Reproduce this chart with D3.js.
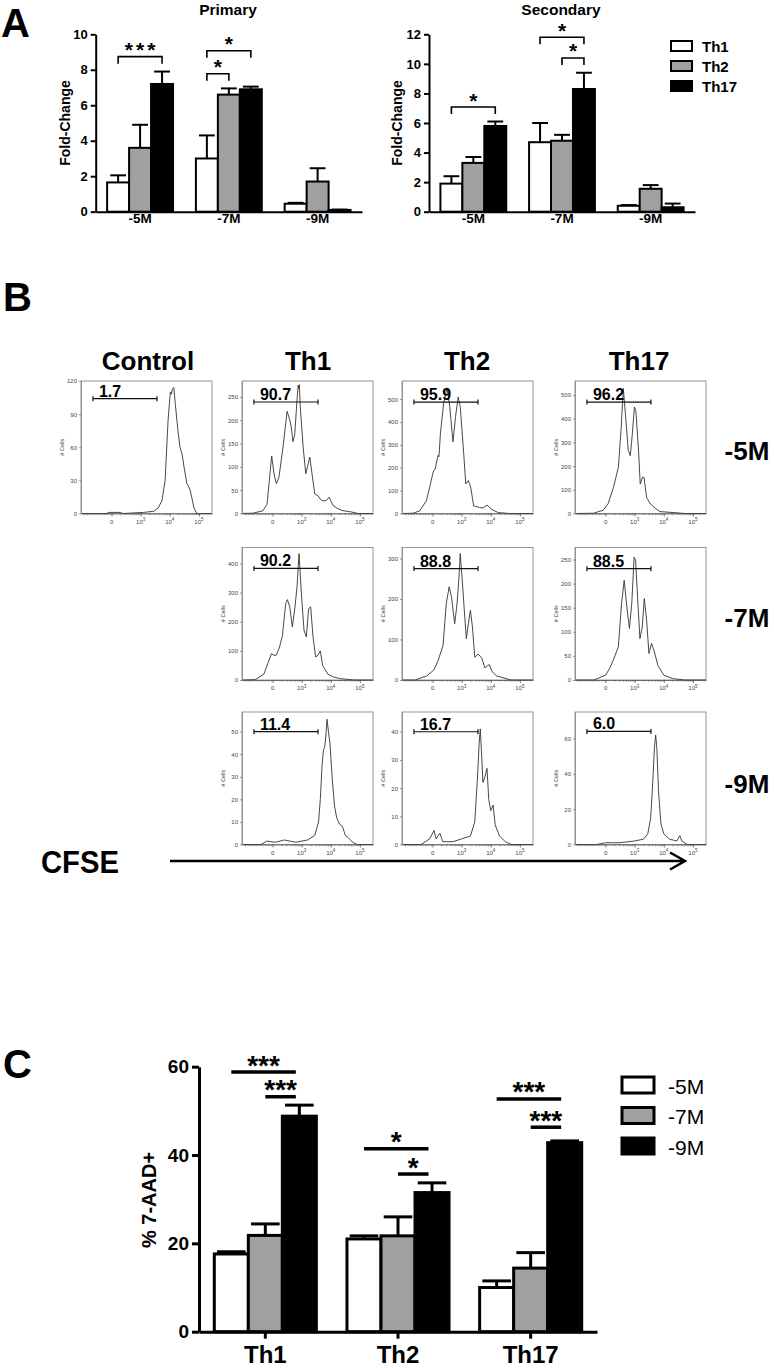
<!DOCTYPE html>
<html><head><meta charset="utf-8">
<script src="https://cdn.jsdelivr.net/npm/d3@7"></script>
<style>body{margin:0;background:#fff;} svg{display:block;font-family:"Liberation Sans",Arial,sans-serif;}</style>
</head><body>
<svg id="c" width="774" height="1368"></svg>
<script>
// ---------------- DATA ----------------
// Panel A
const foldCategories = ["-5M", "-7M", "-9M"];
const subsets = ["Th1", "Th2", "Th17"];
const primaryMeans = [[1.65, 3.6, 7.2], [3.0, 6.6, 6.9], [0.45, 1.7, 0.1]];
const primaryErrTop = [[2.05, 4.9, 7.9], [4.3, 6.95, 7.05], [0.5, 2.45, 0.12]];
const secondaryMeans = [[1.9, 3.3, 5.8], [4.7, 4.8, 8.3], [0.4, 1.55, 0.3]];
const secondaryErrTop = [[2.4, 3.7, 6.1], [6.0, 5.2, 9.4], [0.45, 1.8, 0.55]];
const primaryTicks = [0, 2, 4, 6, 8, 10];
const secondaryTicks = [0, 2, 4, 6, 8, 10, 12];
const primarySig = [
  {cat: "-5M", from: "Th1", to: "Th17", y: 8.74, label: "***"},
  {cat: "-7M", from: "Th1", to: "Th2", y: 7.78, label: "*"},
  {cat: "-7M", from: "Th1", to: "Th17", y: 9.07, label: "*"}
];
const secondarySig = [
  {cat: "-5M", from: "Th1", to: "Th17", y: 7.08, label: "*"},
  {cat: "-7M", from: "Th2", to: "Th17", y: 10.4, label: "*"},
  {cat: "-7M", from: "Th1", to: "Th17", y: 11.8, label: "*"}
];

// Panel B (CFSE histograms, channel units: 0 = "0", 1 = 10^3, 2 = 10^4, 3 = 10^5)
const histColumns = ["Control", "Th1", "Th2", "Th17"];
const histRows = ["-5M", "-7M", "-9M"];
const cfseTickValues = [0, 1, 2, 3];
const cfseTickExp = ["", "3", "4", "5"];
const gateRange = [-0.64, 1.56];

const histControl = [[-1.05,0],[-0.2,0],[-0.05,1],[0.3,1],[0.4,0],[1.1,1],[1.45,2],[1.6,5],[1.73,11.5],[1.84,30],[1.94,84],[2.02,110],[2.06,108],[2.09,113],[2.14,114],[2.19,99],[2.28,75],[2.35,60],[2.42,54],[2.49,42],[2.59,27],[2.69,22],[2.76,14],[2.83,5],[2.93,0],[3.45,0]];
const histTh1_5M = [[-1.05,0],[-0.67,0.7],[-0.33,6],[-0.19,20],[-0.10,78],[-0.03,123],[0.05,85],[0.13,64],[0.22,78],[0.36,143],[0.50,219],[0.59,201],[0.64,186],[0.70,154],[0.76,168],[0.84,244],[0.88,275],[0.90,268],[0.92,276],[0.95,230],[1.05,143],[1.14,85],[1.28,121],[1.37,78],[1.45,42],[1.56,38],[1.65,30],[1.73,27],[1.85,28],[1.94,35],[2.08,17],[2.25,10],[2.42,6],[2.65,4],[2.8,2],[2.94,0],[3.45,0]];
const histTh2_5M = [[-1.05,0],[-0.67,1],[-0.44,12],[-0.21,56],[-0.10,115],[0.02,181],[0.09,196],[0.19,254],[0.22,248],[0.27,350],[0.38,482],[0.50,549],[0.59,468],[0.70,313],[0.79,424],[0.88,509],[0.95,468],[1.07,262],[1.14,129],[1.23,144],[1.31,115],[1.41,34],[1.62,26],[1.73,24],[1.87,37],[2.02,19],[2.25,4],[2.65,0],[3.45,0]];
const histTh17_5M = [[-1.05,0],[-0.42,1],[-0.08,14],[0.09,42],[0.27,110],[0.44,195],[0.53,350],[0.61,527],[0.70,393],[0.78,266],[0.85,244],[0.92,336],[0.99,449],[1.04,435],[1.14,251],[1.19,124],[1.27,153],[1.32,153],[1.41,68],[1.53,42],[1.70,23],[1.87,8],[2.32,4],[2.73,0],[3.45,0]];
const histTh1_7M = [[-1.05,0],[-0.6,1],[-0.3,20],[-0.15,60],[-0.04,90],[0.05,85],[0.13,85],[0.24,113],[0.34,153],[0.45,262],[0.51,276],[0.59,251],[0.68,182],[0.77,251],[0.84,320],[0.91,434],[0.99,297],[1.08,171],[1.16,148],[1.24,245],[1.31,251],[1.39,148],[1.48,79],[1.56,85],[1.64,100],[1.72,50],[1.9,20],[2.1,10],[2.3,5],[2.8,0],[3.45,0]];
const histTh2_7M = [[-1.05,0],[-0.6,0],[-0.2,10],[0.05,25],[0.19,48],[0.36,85],[0.47,188],[0.57,230],[0.65,205],[0.76,139],[0.84,188],[0.91,255],[0.95,312],[1.02,246],[1.09,172],[1.16,102],[1.23,139],[1.30,172],[1.37,131],[1.45,56],[1.56,64],[1.68,56],[1.8,30],[1.95,38],[2.05,20],[2.2,10],[2.7,0],[3.45,0]];
const histTh17_7M = [[-1.05,0],[-0.4,0],[0.0,10],[0.15,25],[0.27,42],[0.44,69],[0.55,159],[0.64,207],[0.73,152],[0.82,107],[0.90,159],[0.98,255],[1.03,248],[1.10,172],[1.18,86],[1.26,110],[1.33,169],[1.41,124],[1.49,55],[1.58,76],[1.66,62],[1.8,30],[2.0,10],[2.3,3],[2.7,0],[3.45,0]];
const histTh1_9M = [[-1.05,0],[-0.4,0],[-0.2,1.5],[0.1,1],[0.4,2],[0.8,1],[1.2,2],[1.45,4],[1.58,10],[1.64,20],[1.7,35],[1.75,42],[1.79,43],[1.83,48],[1.87,55.5],[1.92,50],[1.97,45],[2.05,29],[2.13,17],[2.2,12],[2.3,9],[2.4,8],[2.5,4],[2.6,3],[2.75,1],[2.9,0],[3.45,0]];
const histTh2_9M = [[-1.05,0],[-0.4,0],[-0.1,2],[0.05,5],[0.12,2],[0.25,4],[0.35,1],[0.7,1],[1.0,2],[1.3,3],[1.45,8],[1.55,25],[1.6,36],[1.64,41],[1.68,33],[1.73,22],[1.8,24],[1.87,27],[1.93,16],[2.0,12],[2.08,14],[2.15,7],[2.3,3],[2.5,1],[2.7,0],[3.45,0]];
const histTh17_9M = [[-1.05,0],[-0.3,0],[0.0,1],[0.5,1],[1.0,2],[1.3,3],[1.45,6],[1.55,15],[1.62,35],[1.68,55],[1.72,62],[1.76,55],[1.82,30],[1.9,12],[2.0,6],[2.2,3],[2.45,2],[2.55,5],[2.62,2],[2.8,0],[3.45,0]];

// per histogram: [row, col, data, yMax, yTickStep, yTickMax, gateLevel, percent]
const histPanels = [
  [0, 0, histControl, 120, 30, 120, 104, "1.7"],
  [0, 1, histTh1_5M, 284, 50, 250, 239, "90.7"],
  [0, 2, histTh2_5M, 579, 100, 500, 487, "95.9"],
  [0, 3, histTh17_5M, 559, 100, 500, 470, "96.2"],
  [1, 1, histTh1_7M, 455, 100, 400, 383, "90.2"],
  [1, 2, histTh2_7M, 327, 100, 300, 275, "88.8"],
  [1, 3, histTh17_7M, 275, 50, 250, 231, "88.5"],
  [2, 1, histTh1_9M, 58.7, 10, 50, 50, "11.4"],
  [2, 2, histTh2_9M, 47, 10, 40, 40, "16.7"],
  [2, 3, histTh17_9M, 75, 20, 60, 64, "6.0"]
];

// Panel C
const aadGroups = ["Th1", "Th2", "Th17"];
const doses = ["-5M", "-7M", "-9M"];
const aadMeans = [[17.6, 21.8, 48.8], [21.0, 21.7, 31.5], [10.0, 14.4, 42.8]];
const aadErrTop = [[18.1, 24.4, 51.3], [21.7, 26.0, 33.7], [11.5, 17.9, 43.2]];
const aadTicks = [0, 20, 40, 60];
const aadSig = [
  {group: "Th1", from: "-5M", to: "-9M", y: 58.8, label: "***"},
  {group: "Th1", from: "-7M", to: "-9M", y: 53.2, label: "***"},
  {group: "Th2", from: "-5M", to: "-9M", y: 41.4, label: "*"},
  {group: "Th2", from: "-7M", to: "-9M", y: 35.7, label: "*"},
  {group: "Th17", from: "-5M", to: "-9M", y: 52.7, label: "***"},
  {group: "Th17", from: "-7M", to: "-9M", y: 46.3, label: "***"}
];

// ---------------- DRAWING ----------------
const svg = d3.select("#c");
const fills = {Th1: "#ffffff", Th2: "#a0a0a0", Th17: "#000000"};
const doseFills = {"-5M": "#ffffff", "-7M": "#a0a0a0", "-9M": "#000000"};

function letter(t, x, y) {
  svg.append("text").attr("x", x).attr("y", y).attr("font-size", 40)
    .attr("font-weight", "bold").text(t);
}
letter("A", 1, 37);
letter("B", 3, 311);
letter("C", 3, 1078);

// ---- Panel A ----
function foldPanel(cfg) {
  const g = svg.append("g");
  const x = d3.scaleBand().domain(foldCategories).range([cfg.x0, cfg.x1]);
  const xs = d3.scaleBand().domain(subsets).range([0, x.bandwidth()]).paddingOuter(0.52);
  const y = d3.scaleLinear().domain([0, cfg.yMax]).range([211.7, 34.3]);
  const bw = xs.bandwidth();

  const bars = [];
  foldCategories.forEach((c, i) => subsets.forEach((s, j) =>
    bars.push({c, s, v: cfg.means[i][j], e: cfg.errs[i][j]})));

  const eg = g.append("g").attr("stroke", "#000").attr("stroke-width", 2);
  bars.forEach(d => {
    const cx = x(d.c) + xs(d.s) + bw / 2;
    eg.append("line").attr("x1", cx).attr("x2", cx).attr("y1", y(d.v)).attr("y2", y(d.e));
    eg.append("line").attr("x1", cx - bw * 0.36).attr("x2", cx + bw * 0.36).attr("y1", y(d.e)).attr("y2", y(d.e));
  });
  g.selectAll("rect.bar").data(bars).join("rect").attr("class", "bar")
    .attr("x", d => x(d.c) + xs(d.s)).attr("width", bw)
    .attr("y", d => y(d.v)).attr("height", d => y(0) - y(d.v))
    .attr("fill", d => fills[d.s]).attr("stroke", "#000").attr("stroke-width", 2);

  const ya = g.append("g").attr("transform", `translate(${cfg.x0},0)`)
    .call(d3.axisLeft(y).tickValues(cfg.ticks).tickSize(5).tickSizeOuter(0).tickPadding(3));
  ya.selectAll("path,line").attr("stroke", "#000").attr("stroke-width", 2);
  ya.selectAll("text").attr("font-size", 13).attr("font-weight", "bold")
    .attr("font-family", "Liberation Sans, Arial, sans-serif").attr("fill", "#000");
  const xa = g.append("g").attr("transform", "translate(0,211.7)")
    .call(d3.axisBottom(x).tickSize(0).tickSizeOuter(0));
  xa.selectAll("path,line").attr("stroke", "#000").attr("stroke-width", 2);
  xa.selectAll("text").attr("font-size", 13.5).attr("font-weight", "bold")
    .attr("font-family", "Liberation Sans, Arial, sans-serif").attr("fill", "#000")
    .attr("y", 11.5).attr("dy", 0);

  cfg.sig.forEach(s => {
    const x1 = x(s.cat) + xs(s.from) + bw / 2;
    const x2 = x(s.cat) + xs(s.to) + bw / 2;
    const yy = y(s.y);
    g.append("path").attr("d", `M${x1},${yy + 7}V${yy}H${x2}V${yy + 7}`)
      .attr("fill", "none").attr("stroke", "#000").attr("stroke-width", 1.6);
    g.append("text").attr("x", (x1 + x2) / 2 + (s.label.length > 1 ? 1.5 : 0)).attr("y", yy + 0.5)
      .attr("text-anchor", "middle").attr("font-size", 21).attr("font-weight", "bold")
      .attr("letter-spacing", s.label.length > 1 ? 3 : 0).text(s.label);
  });

  g.append("text").attr("x", cfg.titleX).attr("y", 14.5).attr("text-anchor", "middle")
    .attr("font-size", 15.5).attr("font-weight", "bold").text(cfg.title);
  g.append("text").attr("transform", `translate(${cfg.labelX},123) rotate(-90)`)
    .attr("text-anchor", "middle").attr("font-size", 14).attr("font-weight", "bold").text("Fold-Change");
}

foldPanel({x0: 95.7, x1: 362, yMax: 10, ticks: primaryTicks, means: primaryMeans, errs: primaryErrTop,
  sig: primarySig, title: "Primary", titleX: 228, labelX: 70});
foldPanel({x0: 429, x1: 695, yMax: 12, ticks: secondaryTicks, means: secondaryMeans, errs: secondaryErrTop,
  sig: secondarySig, title: "Secondary", titleX: 561, labelX: 401.5});

const legA = svg.append("g");
subsets.forEach((s, i) => {
  const yy = 41 + i * 20;
  legA.append("rect").attr("x", 671).attr("y", yy).attr("width", 21).attr("height", 10)
    .attr("fill", fills[s]).attr("stroke", "#000").attr("stroke-width", 2);
  legA.append("text").attr("x", 702).attr("y", yy + 10.5).attr("font-size", 15)
    .attr("font-weight", "bold").text(s);
});

// ---- Panel B ----
const colLeft = [81, 242, 402, 575];
const colCenter = [148, 308, 467, 639];
const rowTop = [381, 547.5, 712];
const rowLabelY = [460, 627, 793];
const boxW = 131, boxH = 132.5;

histColumns.forEach((c, i) => {
  svg.append("text").attr("x", colCenter[i]).attr("y", 370).attr("text-anchor", "middle")
    .attr("font-size", 26).attr("font-weight", "bold").text(c);
});
histRows.forEach((r, i) => {
  svg.append("text").attr("x", 747).attr("y", rowLabelY[i]).attr("text-anchor", "middle")
    .attr("font-size", 26).attr("font-weight", "bold").text(r);
});

histPanels.forEach(p => {
  const [row, col, data, yMax, yStep, yTickMax, gateLevel, pct] = p;
  const left = colLeft[col], top = rowTop[row];
  const g = svg.append("g");
  const hx = d3.scaleLinear().domain([-1.05, 3.45]).range([left, left + boxW]);
  const hy = d3.scaleLinear().domain([0, yMax]).range([top + boxH, top]);

  g.append("rect").attr("x", left).attr("y", top).attr("width", boxW).attr("height", boxH)
    .attr("fill", "none").attr("stroke", "#8a8a8a").attr("stroke-width", 0.9);

  g.append("path").datum(data)
    .attr("d", d3.line().x(d => hx(d[0])).y(d => hy(d[1])))
    .attr("fill", "none").attr("stroke", "#333").attr("stroke-width", 0.9);

  const yt = d3.range(0, yTickMax + 0.001, yStep);
  const ya = g.append("g").attr("transform", `translate(${left},0)`)
    .call(d3.axisLeft(hy).tickValues(yt).tickSize(2).tickPadding(2).tickSizeOuter(0));
  ya.select(".domain").attr("stroke", "#8a8a8a").attr("stroke-width", 0.9);
  ya.selectAll("line").attr("stroke", "#555").attr("stroke-width", 0.6);
  ya.selectAll("text").attr("font-size", 6).attr("fill", "#444");
  g.append("text").attr("transform", `translate(${left - 17},${top + boxH / 2}) rotate(-90)`)
    .attr("text-anchor", "middle").attr("font-size", 5.5).attr("fill", "#444").text("# Cells");

  const minor = [];
  for (let v = -0.95; v < 0; v += 0.1) minor.push(v);
  [0, 1, 2].forEach(dc => d3.range(2, 10).forEach(k => minor.push(dc + Math.log10(k))));
  const xa = g.append("g").attr("transform", `translate(0,${top + boxH})`);
  xa.call(d3.axisBottom(hx).tickValues(minor).tickSize(1.8).tickFormat("").tickSizeOuter(0));
  xa.selectAll("line").attr("stroke", "#555").attr("stroke-width", 0.5);
  xa.select(".domain").attr("stroke", "#555").attr("stroke-width", 0.8);
  const xb = g.append("g").attr("transform", `translate(0,${top + boxH})`);
  xb.call(d3.axisBottom(hx).tickValues(cfseTickValues).tickSize(3).tickFormat("").tickSizeOuter(0));
  xb.select(".domain").remove();
  xb.selectAll("line").attr("stroke", "#444").attr("stroke-width", 0.7);
  cfseTickValues.forEach((v, i) => {
    const t = g.append("text").attr("x", hx(v)).attr("y", top + boxH + 10)
      .attr("text-anchor", "middle").attr("font-size", 6).attr("fill", "#444");
    if (cfseTickExp[i] === "") t.text("0");
    else {
      t.append("tspan").text("10");
      t.append("tspan").attr("font-size", 4.5).attr("dy", -2.5).text(cfseTickExp[i]);
    }
  });

  const gy = hy(gateLevel), gx1 = hx(gateRange[0]), gx2 = hx(gateRange[1]);
  g.append("path").attr("d", `M${gx1},${gy - 2.5}V${gy + 2.5}M${gx1},${gy}H${gx2}M${gx2},${gy - 2.5}V${gy + 2.5}`)
    .attr("stroke", "#111").attr("stroke-width", 1.2).attr("fill", "none");
  g.append("text").attr("x", gx1 + 6).attr("y", gy - 2).attr("font-size", 16)
    .attr("font-weight", "bold").text(pct);
});

svg.append("text").attr("x", 41).attr("y", 873).attr("font-size", 32).attr("font-weight", "bold")
  .attr("textLength", 78).attr("lengthAdjust", "spacingAndGlyphs").text("CFSE");
svg.append("path").attr("d", "M170,861H684M670,852.5L685,861L670,869.5")
  .attr("fill", "none").attr("stroke", "#000").attr("stroke-width", 2.5);

// ---- Panel C ----
(function () {
  const g = svg.append("g");
  const x = d3.scaleBand().domain(aadGroups).range([199, 597]);
  const xs = d3.scaleBand().domain(doses).range([0, x.bandwidth()]).paddingOuter(0.45);
  const y = d3.scaleLinear().domain([0, 60]).range([1331.7, 1066.7]);
  const bw = xs.bandwidth();
  const bars = [];
  aadGroups.forEach((c, i) => doses.forEach((s, j) => bars.push({c, s, v: aadMeans[i][j], e: aadErrTop[i][j]})));

  const eg = g.append("g").attr("stroke", "#000").attr("stroke-width", 3);
  bars.forEach(d => {
    const cx = x(d.c) + xs(d.s) + bw / 2;
    eg.append("line").attr("x1", cx).attr("x2", cx).attr("y1", y(d.v)).attr("y2", y(d.e));
    eg.append("line").attr("x1", cx - bw * 0.42).attr("x2", cx + bw * 0.42).attr("y1", y(d.e)).attr("y2", y(d.e));
  });
  g.selectAll("rect.bar").data(bars).join("rect").attr("class", "bar")
    .attr("x", d => x(d.c) + xs(d.s)).attr("width", bw)
    .attr("y", d => y(d.v)).attr("height", d => y(0) - y(d.v))
    .attr("fill", d => doseFills[d.s]).attr("stroke", "#000").attr("stroke-width", 3);

  const ya = g.append("g").attr("transform", "translate(199,0)")
    .call(d3.axisLeft(y).tickValues(aadTicks).tickSize(7).tickSizeOuter(0).tickPadding(3));
  ya.selectAll("path,line").attr("stroke", "#000").attr("stroke-width", 3);
  ya.selectAll("text").attr("font-size", 19).attr("font-weight", "bold")
    .attr("font-family", "Liberation Sans, Arial, sans-serif").attr("fill", "#000");
  const xa = g.append("g").attr("transform", "translate(0,1331.7)")
    .call(d3.axisBottom(x).tickSize(7).tickSizeOuter(0));
  xa.selectAll("path,line").attr("stroke", "#000").attr("stroke-width", 3);
  xa.selectAll("text").attr("font-size", 24).attr("font-weight", "bold")
    .attr("font-family", "Liberation Sans, Arial, sans-serif").attr("fill", "#000")
    .attr("y", 31).attr("dy", 0);

  g.append("text").attr("transform", "translate(156,1200) rotate(-90)").attr("text-anchor", "middle")
    .attr("font-size", 20).attr("font-weight", "bold").text("% 7-AAD+");

  aadSig.forEach(s => {
    const x1 = x(s.group) + xs(s.from) + bw / 2;
    const x2 = x(s.group) + xs(s.to) + bw / 2 - 3.5;
    const yy = y(s.y);
    g.append("line").attr("x1", x1).attr("x2", x2).attr("y1", yy).attr("y2", yy)
      .attr("stroke", "#000").attr("stroke-width", 3.5);
    g.append("text").attr("x", (x1 + x2) / 2).attr("y", yy + 2.5).attr("text-anchor", "middle")
      .attr("font-size", 28).attr("font-weight", "bold").text(s.label);
  });

  doses.forEach((d, i) => {
    const yy = 1077 + i * 30.5;
    g.append("rect").attr("x", 622).attr("y", yy).attr("width", 32).attr("height", 16)
      .attr("fill", doseFills[d]).attr("stroke", "#000").attr("stroke-width", 3);
    g.append("text").attr("x", 668).attr("y", yy + 16.5).attr("font-size", 21).text(d);
  });
})();
</script>
</body></html>
